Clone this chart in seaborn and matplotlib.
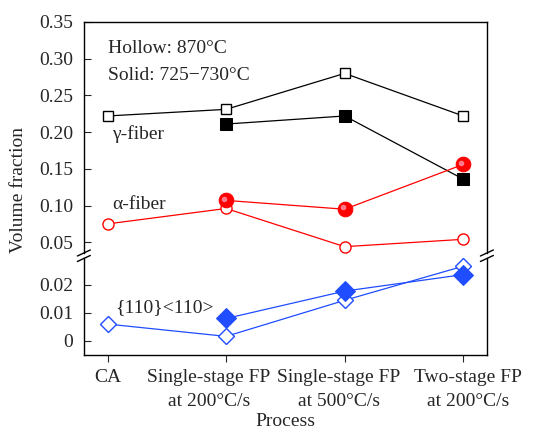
import numpy as np
import pandas as pd
import seaborn as sns
import matplotlib.pyplot as plt
import matplotlib.transforms as mtransforms

sns.set_style('ticks')
plt.rcParams['font.family'] = ['Liberation Serif', 'DejaVu Serif']

# data
processes = ['CA', 'Single-stage FP\nat 200°C/s', 'Single-stage FP\nat 500°C/s', 'Two-stage FP\nat 200°C/s']
gamma_hollow = [0.222, 0.231, 0.280, 0.222]
gamma_solid = [np.nan, 0.211, 0.222, 0.136]
alpha_hollow = [0.075, 0.096, 0.044, 0.054]
alpha_solid = [np.nan, 0.107, 0.095, 0.156]
rot_hollow = [0.006, 0.0016, 0.0145, 0.0267]
rot_solid = [np.nan, 0.008, 0.0178, 0.0237]

xpos = np.arange(len(processes))
df = pd.DataFrame({'x': xpos, 'gh': gamma_hollow, 'gs': gamma_solid,
                   'ah': alpha_hollow, 'as': alpha_solid,
                   'rh': rot_hollow, 'rs': rot_solid})

red = '#ff0000'
blue = '#1f4dff'

fig = plt.figure(figsize=(5.41, 4.32), dpi=100)
ax1 = fig.add_axes([0.155, 0.4144, 0.745, 0.5347])
ax2 = fig.add_axes([0.155, 0.178, 0.745, 0.2245])

# upper panel: gamma and alpha fibers
sns.lineplot(data=df, x='x', y='gh', ax=ax1, color='black', lw=0.9, marker='s',
             ms=7, mfc='white', mec='black', mew=1.0)
sns.lineplot(data=df.dropna(subset=['gs']), x='x', y='gs', ax=ax1, color='black', lw=0.9,
             marker='s', ms=9, mfc='black', mec='black')
sns.lineplot(data=df, x='x', y='ah', ax=ax1, color=red, lw=0.9, marker='o',
             ms=8, mfc='white', mec=red, mew=1.0)
sns.lineplot(data=df.dropna(subset=['as']), x='x', y='as', ax=ax1, color=red, lw=0.9,
             marker='o', ms=10.5, mfc=red, mec=red)
# sphere highlight
sub = df.dropna(subset=['as'])
ax1.plot(sub['x'] - 0.015, sub['as'] + 0.0025, 'o', ms=3, color='#ff8fa5', alpha=0.8)

# lower panel: {110}<110>
sns.lineplot(data=df, x='x', y='rh', ax=ax2, color=blue, lw=0.9, marker='D',
             ms=8, mfc='white', mec=blue, mew=1.0)
sns.lineplot(data=df.dropna(subset=['rs']), x='x', y='rs', ax=ax2, color=blue, lw=0.9,
             marker='D', ms=10, mfc=blue, mec=blue)

for ax in (ax1, ax2):
    ax.set_xlim(-0.2, 3.2)
    ax.set_xlabel('')
    ax.set_ylabel('')
    for s in ax.spines.values():
        s.set_linewidth(1.0)
        s.set_color('black')
    ax.tick_params(axis='y', direction='in', length=5, pad=7.5, labelsize=14, right=False)
    ax.tick_params(axis='x', direction='out', length=5, pad=5, labelsize=14, top=False)

ax1.set_ylim(0.0354, 0.35)
ax1.set_yticks([0.05, 0.10, 0.15, 0.20, 0.25, 0.30, 0.35])
ax1.set_yticklabels(['0.05', '0.10', '0.15', '0.20', '0.25', '0.30', '0.35'])
ax1.spines['bottom'].set_visible(False)
ax1.tick_params(axis='x', bottom=False, labelbottom=False)

ax2.set_ylim(-0.0051, 0.0296)
ax2.set_yticks([0, 0.01, 0.02])
ax2.set_yticklabels(['0', '0.01', '0.02'])
ax2.spines['top'].set_visible(False)
ax2.set_xticks(xpos)
ax2.set_xticklabels(processes, linespacing=1.55)
# labels in the original sit slightly off their ticks
for lab, dx in zip(ax2.get_xticklabels(), [0, -17, -6, 5]):
    lab.set_transform(lab.get_transform() + mtransforms.ScaledTranslation(dx / 100, 0, fig.dpi_scale_trans))

# break marks
for xf in (0.155, 0.900):
    for yf in (0.4144, 0.4017):
        fig.add_artist(plt.Line2D([xf - 0.012, xf + 0.012], [yf - 0.007, yf + 0.007],
                                  color='black', lw=1.0))

# annotations
ax1.text(0.06, 0.885, 'Hollow: 870°C', transform=ax1.transAxes, fontsize=14, va='center')
ax1.text(0.06, 0.77, 'Solid: 725\u2212730°C', transform=ax1.transAxes, fontsize=14, va='center')
ax1.text(0.07, 0.515, 'γ-fiber', transform=ax1.transAxes, fontsize=14, va='center')
ax1.text(0.07, 0.21, 'α-fiber', transform=ax1.transAxes, fontsize=14, va='center')
ax2.text(0.077, 0.49, '{110}<110>', transform=ax2.transAxes, fontsize=14, va='center')

fig.text(0.035, 0.56, 'Volume fraction', rotation=90, fontsize=14, ha='center', va='center')
fig.text(0.527, 0.024, 'Process', fontsize=14, ha='center', va='center')

fig.savefig('out.png', dpi=100)
